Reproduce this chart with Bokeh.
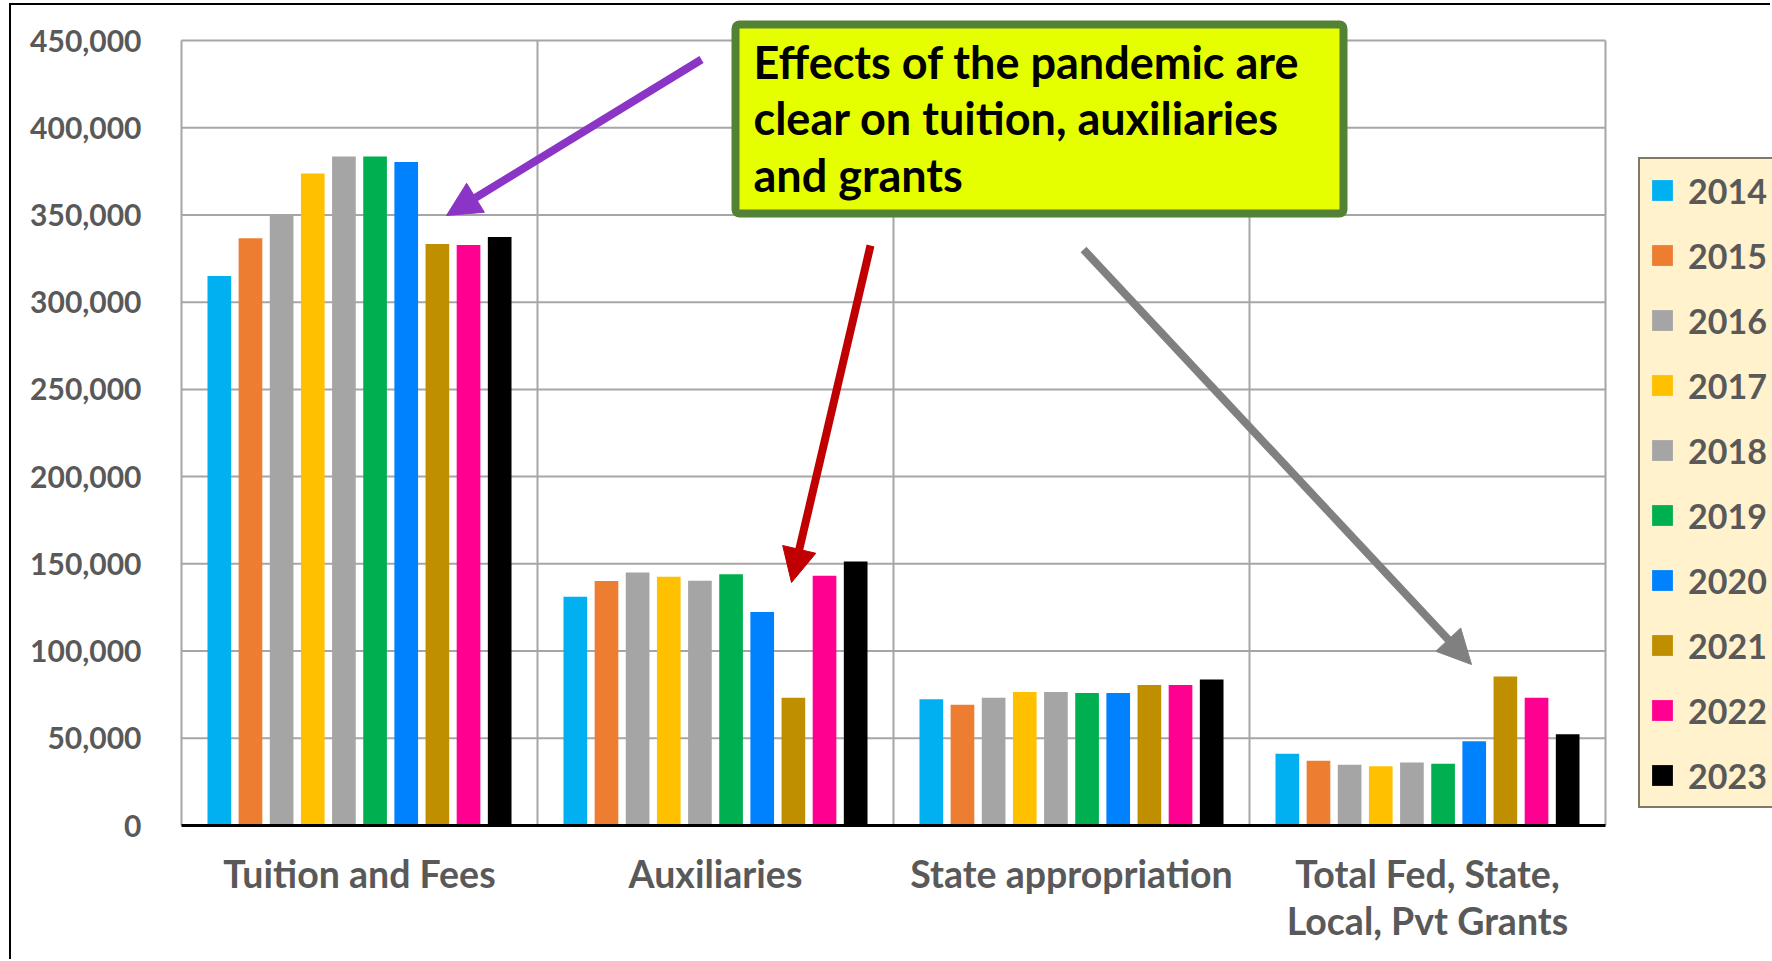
from bokeh.plotting import figure
from bokeh.models import (ColumnDataSource, FixedTicker, NumeralTickFormatter, Arrow,
                          NormalHead, BoxAnnotation, Label, Range1d)
from bokeh.transform import dodge
from bokeh.embed import file_html
from bokeh.resources import INLINE

# ---- data ---------------------------------------------------------------
categories = ["Tuition and Fees", "Auxiliaries", "State appropriation",
              "Total Fed, State,\nLocal, Pvt Grants"]
years = ["2014", "2015", "2016", "2017", "2018", "2019", "2020", "2021", "2022", "2023"]

tuition_fees = [315000, 336700, 350600, 373800, 383500, 383500, 380300, 333400, 332700, 337400]
auxiliaries = [131200, 140100, 145100, 142600, 140300, 144100, 122400, 73200, 143200, 151300]
state_appropriation = [72400, 69200, 73200, 76600, 76600, 75900, 75900, 80600, 80600, 83700]
grants_total = [41100, 37100, 34800, 34000, 36100, 35400, 48300, 85400, 73200, 52300]

year_colors = ["#00B0F0", "#ED7D31", "#A5A5A5", "#FFC000", "#A5A5A5",
               "#00B050", "#0082FF", "#BF8F00", "#FF0090", "#000000"]

y_ticks = list(range(0, 450001, 50000))
Y_MAX = 450000

note_text = "Effects of the pandemic are\nclear on tuition, auxiliaries\nand grants"

# ---- layout (page pixels) -----------------------------------------------
PAGE_W, PAGE_H = 1772, 961
OX, OY = 11, 5                      # canvas origin, inside the outer border
AREA_L, AREA_R, AREA_T, AREA_B = 181, 1605, 40, 825   # value area
FRAME_L, FRAME_R, FRAME_T = 176, PAGE_W, OY
CW, CH = PAGE_W - OX, PAGE_H - OY
FONT = "Lato"
LABEL_GREY = "#595959"
GRID_GREY = "#A6A6A6"
N_CAT = len(categories)


def px_x(px):
    return (px - AREA_L) / (AREA_R - AREA_L) * N_CAT


def px_y(py):
    return (AREA_B - py) / (AREA_B - AREA_T) * Y_MAX


p = figure(width=CW, height=CH, output_backend="svg", toolbar_location=None,
           x_range=Range1d(px_x(FRAME_L), px_x(FRAME_R)),
           y_range=Range1d(0, px_y(FRAME_T)),
           min_border_left=FRAME_L - OX, min_border_top=0,
           min_border_right=0, min_border_bottom=PAGE_H - AREA_B)
p.outline_line_color = None
p.background_fill_color = "white"
p.border_fill_color = "white"
p.margin = (OY - 2, 0, 0, OX - 2)
p.styles = {"border-left": "2px solid black", "border-top": "2px solid black"}
p.xgrid.visible = False
p.ygrid.visible = False

# gridlines of the value area
n_h = len(y_ticks)
p.segment(x0=[0] * n_h, x1=[N_CAT] * n_h, y0=y_ticks, y1=y_ticks,
          line_color=GRID_GREY, line_width=2)
p.segment(x0=list(range(N_CAT + 1)), x1=list(range(N_CAT + 1)),
          y0=[0] * (N_CAT + 1), y1=[Y_MAX] * (N_CAT + 1),
          line_color=GRID_GREY, line_width=2)

# grouped bars: one renderer per year, dodged inside each category
pitch = 0.0875
bar_w = 0.0665
centers = [i + 0.5 for i in range(N_CAT)]
series = [tuition_fees, auxiliaries, state_appropriation, grants_total]
for j, yr in enumerate(years):
    src = ColumnDataSource(dict(x=centers, top=[s[j] for s in series]))
    p.vbar(x=dodge("x", (j - 4.5) * pitch), top="top", width=bar_w, source=src,
           fill_color=year_colors[j], line_color=None, legend_label=yr)

# axes
p.yaxis.ticker = FixedTicker(ticks=y_ticks)
p.yaxis.formatter = NumeralTickFormatter(format="0,0")
p.yaxis.axis_line_color = None
p.yaxis.major_tick_line_color = None
p.yaxis.minor_tick_line_color = None
p.yaxis.major_label_standoff = 29
p.yaxis.major_label_text_font = FONT
p.yaxis.major_label_text_font_size = "30px"
p.yaxis.major_label_text_font_style = "bold"
p.yaxis.major_label_text_color = LABEL_GREY

p.xaxis.ticker = FixedTicker(ticks=centers)
p.xaxis.bounds = (0, N_CAT)
p.xaxis.major_label_overrides = {c: name for c, name in zip(centers, categories)}
p.xaxis.axis_line_color = "black"
p.xaxis.axis_line_width = 3
p.xaxis.major_tick_line_color = None
p.xaxis.minor_tick_line_color = None
p.xaxis.major_label_standoff = 19
p.xaxis.major_label_text_font = FONT
p.xaxis.major_label_text_font_size = "37.5px"
p.xaxis.major_label_text_font_style = "bold"
p.xaxis.major_label_text_color = LABEL_GREY
p.xaxis.major_label_text_line_height = 1.055

# legend, right of the value area
lg = p.legend[0]
lg.location = (1638 - FRAME_L, AREA_B - 808)
lg.padding = 9
lg.spacing = 21
lg.margin = 0
lg.glyph_width = 26
lg.glyph_height = 26
lg.label_height = 44
lg.label_width = 95
lg.label_standoff = 13
lg.label_text_font = FONT
lg.label_text_font_size = "34px"
lg.label_text_font_style = "bold"
lg.label_text_color = LABEL_GREY
lg.background_fill_color = "#FFF2CC"
lg.background_fill_alpha = 1
lg.border_line_color = "black"
lg.border_line_width = 2

# call-out box with its note
p.add_layout(BoxAnnotation(left=px_x(735), right=px_x(1343), top=px_y(24), bottom=px_y(213),
                           fill_color="#E6FF00", fill_alpha=1, line_color="#538135",
                           line_alpha=1, line_width=8, border_radius=4))
p.add_layout(Label(x=px_x(753), y=px_y(34), text=note_text, text_font=FONT,
                   text_font_size="45px", text_font_style="bold", text_color="black",
                   text_align="left", text_baseline="top", text_line_height=1.055))

# pointer arrows
for (x0, y0, x1, y1, c) in [(701, 59, 446, 215, "#8B35C6"),
                            (870, 245, 791, 582, "#C00000"),
                            (1083, 249, 1471, 664, "#808080")]:
    p.add_layout(Arrow(end=NormalHead(size=34, fill_color=c, line_color=c, line_width=1),
                       x_start=px_x(x0), y_start=px_y(y0), x_end=px_x(x1), y_end=px_y(y1),
                       line_color=c, line_width=8))

open("out.html", "w").write(file_html(p, INLINE))
